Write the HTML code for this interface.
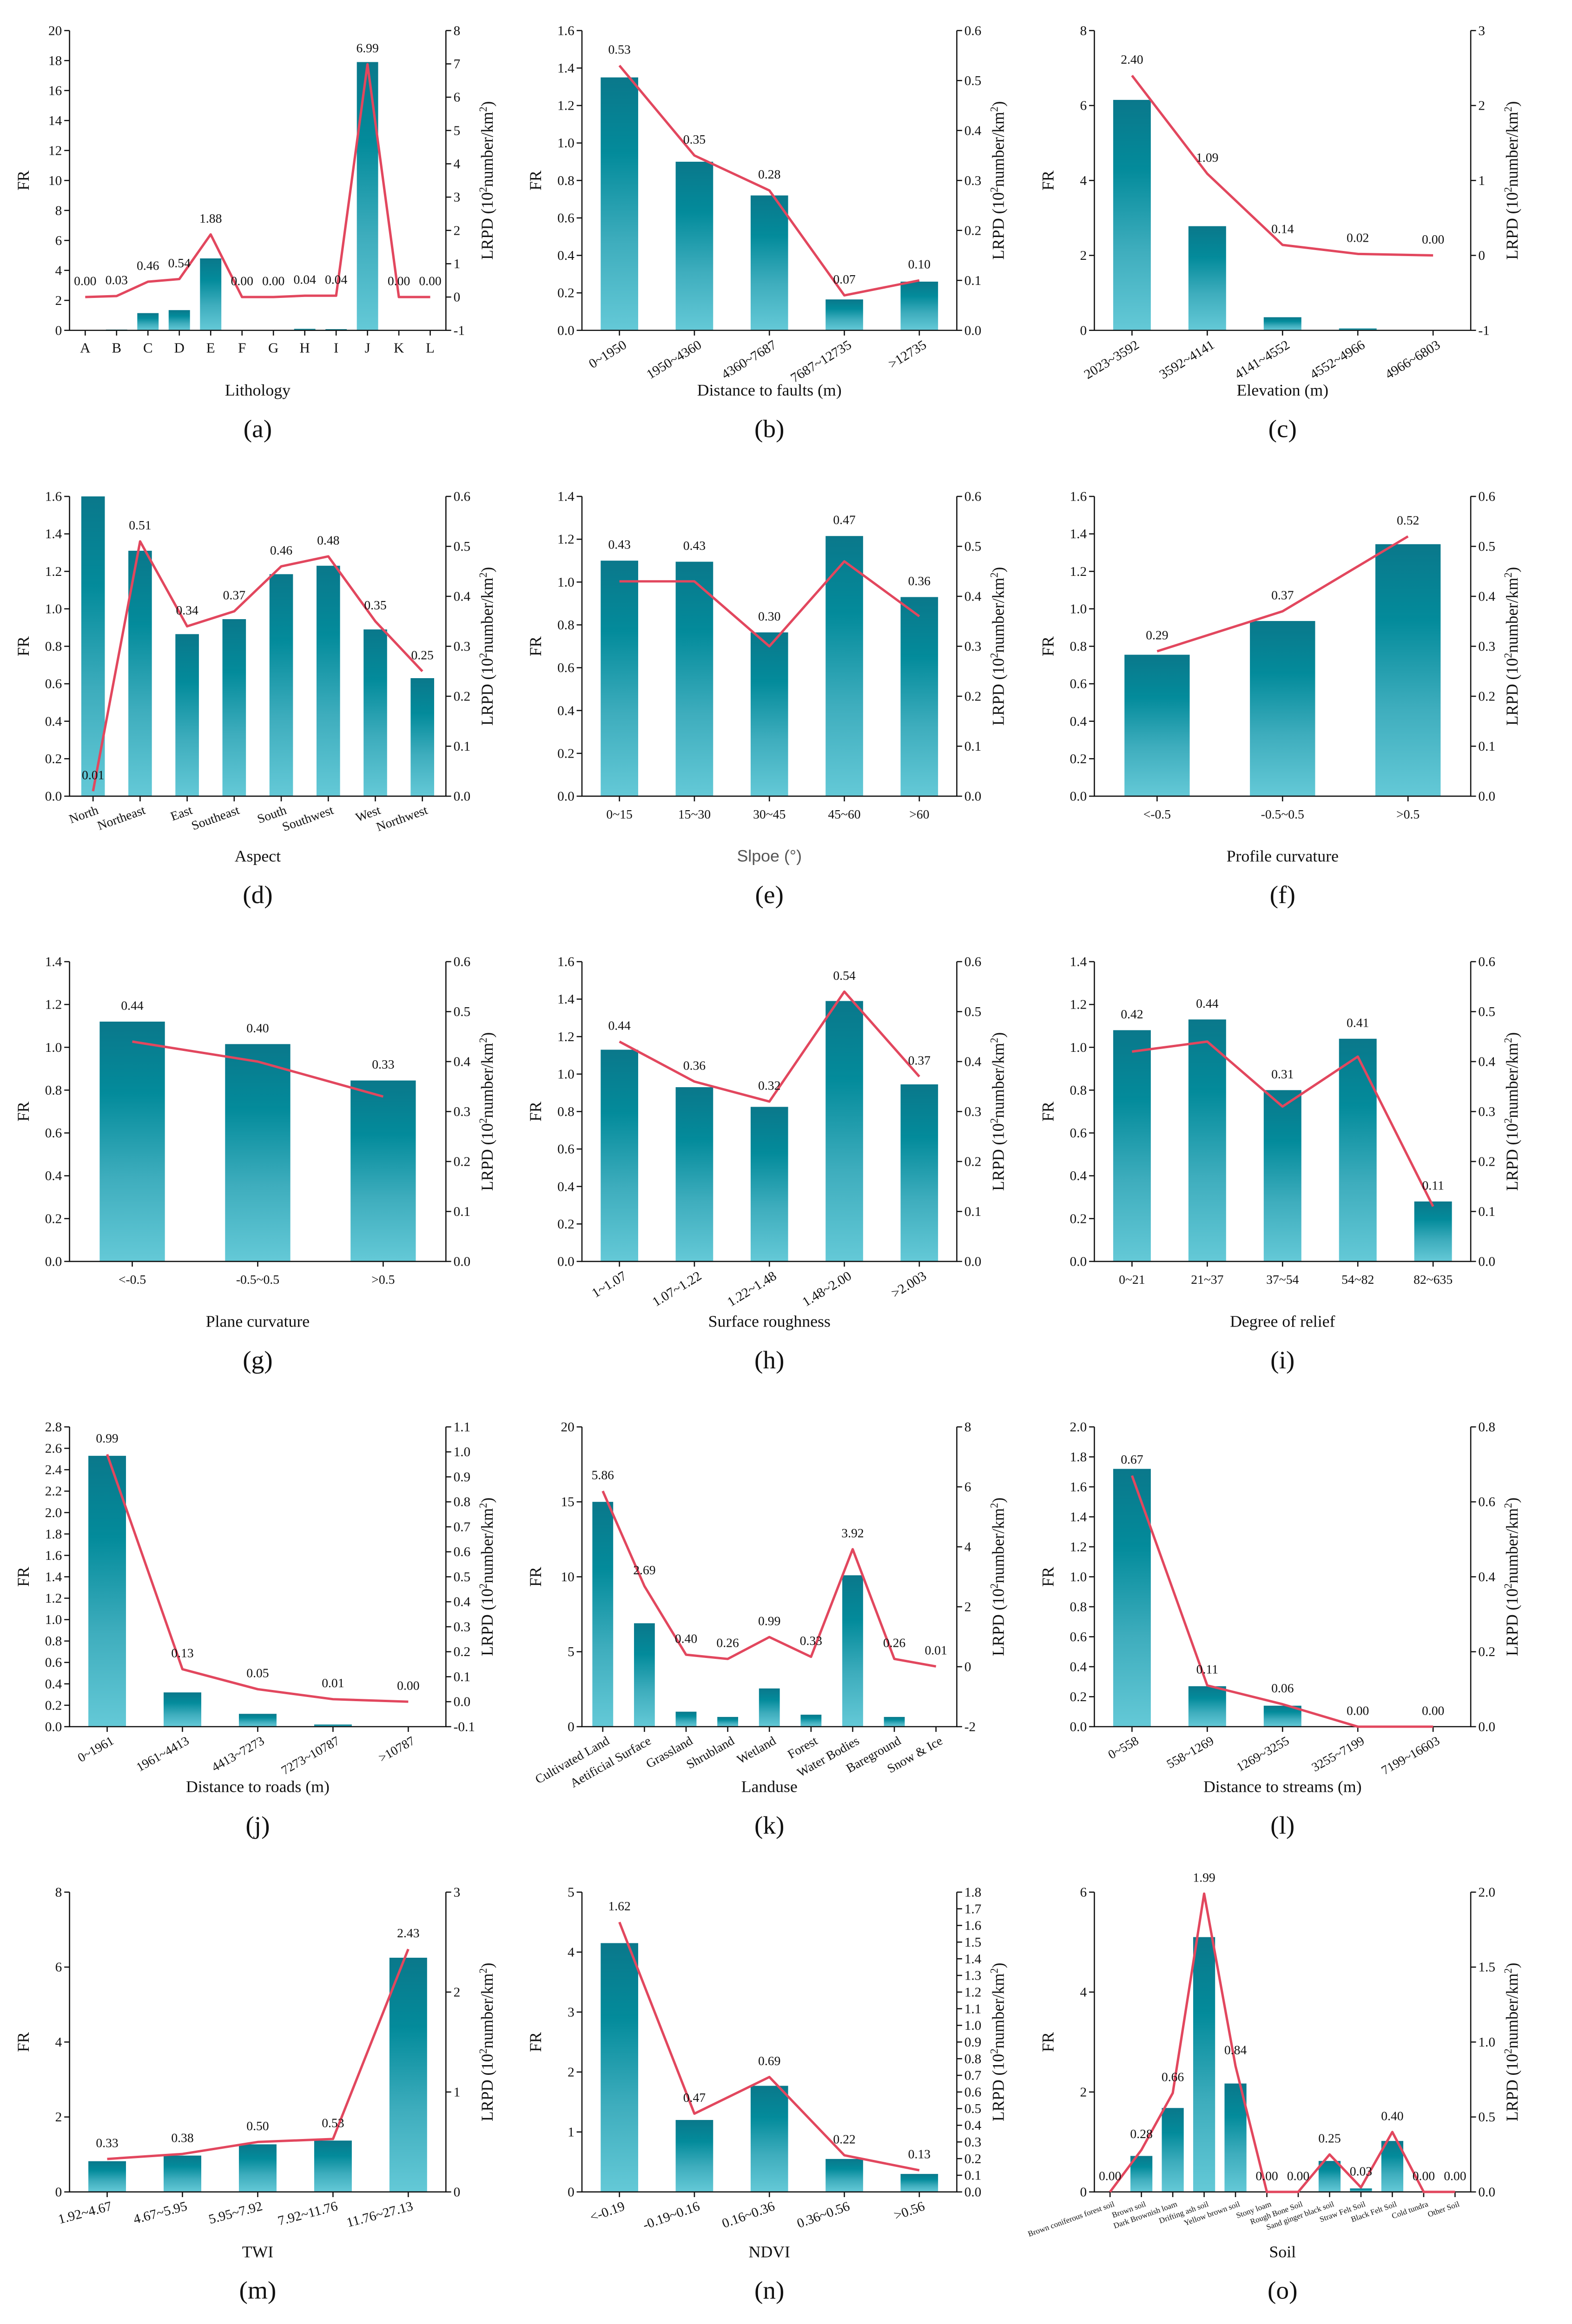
<!DOCTYPE html>
<html><head><meta charset="utf-8"><title>FR and LRPD charts</title>
<style>
html,body{margin:0;padding:0;background:#fff;width:100vw;height:100vh;overflow:hidden;}
svg#fig{display:block;position:absolute;left:0;top:0;width:100vw;height:100vh;}
text{font-family:"Liberation Serif",serif;fill:#111;}
</style></head>
<body>
<svg id="fig" xmlns="http://www.w3.org/2000/svg" viewBox="0 0 1040 1566" preserveAspectRatio="none">
<defs>
<linearGradient id="barGrad" x1="0" y1="0" x2="0" y2="1">
<stop offset="0" stop-color="#0a788b"/>
<stop offset="0.3" stop-color="#038b9b"/>
<stop offset="0.65" stop-color="#3eadbd"/>
<stop offset="1" stop-color="#64c9d7"/>
</linearGradient>
</defs>
<rect x="0" y="0" width="1040" height="1566" fill="#fff"/>
</svg>
<script>
// ---- data ----
const aCats=["A","B","C","D","E","F","G","H","I","J","K","L"];
const aFR=[0,0.05,1.15,1.35,4.8,0,0,0.1,0.08,17.9,0,0];
const aLRPD=[0,0.03,0.46,0.54,1.88,0,0,0.04,0.04,6.99,0,0];
const aLeftTicks=["0","2","4","6","8","10","12","14","16","18","20"];
const aRightTicks=["-1","0","1","2","3","4","5","6","7","8"];
const aLabels=["0.00","0.03","0.46","0.54","1.88","0.00","0.00","0.04","0.04","6.99","0.00","0.00"];

const bCats=["0~1950","1950~4360","4360~7687","7687~12735",">12735"];
const bFR=[1.35,0.9,0.72,0.165,0.26];
const bLRPD=[0.53,0.35,0.28,0.07,0.10];
const bLeftTicks=["0.0","0.2","0.4","0.6","0.8","1.0","1.2","1.4","1.6"];
const bRightTicks=["0.0","0.1","0.2","0.3","0.4","0.5","0.6"];
const bLabels=["0.53","0.35","0.28","0.07","0.10"];

const cCats=["2023~3592","3592~4141","4141~4552","4552~4966","4966~6803"];
const cFR=[6.15,2.78,0.35,0.05,0];
const cLRPD=[2.40,1.09,0.14,0.02,0.00];
const cLeftTicks=["0","2","4","6","8"];
const cRightTicks=["-1","0","1","2","3"];
const cLabels=["2.40","1.09","0.14","0.02","0.00"];

const dCats=["North","Northeast","East","Southeast","South","Southwest","West","Northwest"];
const dFR=[1.6,1.31,0.865,0.945,1.185,1.23,0.89,0.63];
const dLRPD=[0.01,0.51,0.34,0.37,0.46,0.48,0.35,0.25];
const dLeftTicks=["0.0","0.2","0.4","0.6","0.8","1.0","1.2","1.4","1.6"];
const dRightTicks=["0.0","0.1","0.2","0.3","0.4","0.5","0.6"];
const dLabels=["0.01","0.51","0.34","0.37","0.46","0.48","0.35","0.25"];

const eCats=["0~15","15~30","30~45","45~60",">60"];
const eFR=[1.10,1.095,0.765,1.215,0.93];
const eLRPD=[0.43,0.43,0.30,0.47,0.36];
const eLeftTicks=["0.0","0.2","0.4","0.6","0.8","1.0","1.2","1.4"];
const eRightTicks=["0.0","0.1","0.2","0.3","0.4","0.5","0.6"];
const eLabels=["0.43","0.43","0.30","0.47","0.36"];

const fCats=["<-0.5","-0.5~0.5",">0.5"];
const fFR=[0.755,0.935,1.345];
const fLRPD=[0.29,0.37,0.52];
const fLeftTicks=["0.0","0.2","0.4","0.6","0.8","1.0","1.2","1.4","1.6"];
const fRightTicks=["0.0","0.1","0.2","0.3","0.4","0.5","0.6"];
const fLabels=["0.29","0.37","0.52"];

const gCats=["<-0.5","-0.5~0.5",">0.5"];
const gFR=[1.12,1.015,0.845];
const gLRPD=[0.44,0.40,0.33];
const gLeftTicks=["0.0","0.2","0.4","0.6","0.8","1.0","1.2","1.4"];
const gRightTicks=["0.0","0.1","0.2","0.3","0.4","0.5","0.6"];
const gLabels=["0.44","0.40","0.33"];

const hCats=["1~1.07","1.07~1.22","1.22~1.48","1.48~2.00",">2.003"];
const hFR=[1.13,0.93,0.825,1.39,0.945];
const hLRPD=[0.44,0.36,0.32,0.54,0.37];
const hLeftTicks=["0.0","0.2","0.4","0.6","0.8","1.0","1.2","1.4","1.6"];
const hRightTicks=["0.0","0.1","0.2","0.3","0.4","0.5","0.6"];
const hLabels=["0.44","0.36","0.32","0.54","0.37"];

const iCats=["0~21","21~37","37~54","54~82","82~635"];
const iFR=[1.08,1.13,0.80,1.04,0.28];
const iLRPD=[0.42,0.44,0.31,0.41,0.11];
const iLeftTicks=["0.0","0.2","0.4","0.6","0.8","1.0","1.2","1.4"];
const iRightTicks=["0.0","0.1","0.2","0.3","0.4","0.5","0.6"];
const iLabels=["0.42","0.44","0.31","0.41","0.11"];

const jCats=["0~1961","1961~4413","4413~7273","7273~10787",">10787"];
const jFR=[2.53,0.32,0.12,0.02,0];
const jLRPD=[0.99,0.13,0.05,0.01,0.00];
const jLeftTicks=["0.0","0.2","0.4","0.6","0.8","1.0","1.2","1.4","1.6","1.8","2.0","2.2","2.4","2.6","2.8"];
const jRightTicks=["-0.1","0.0","0.1","0.2","0.3","0.4","0.5","0.6","0.7","0.8","0.9","1.0","1.1"];
const jLabels=["0.99","0.13","0.05","0.01","0.00"];

const kCats=["Cultivated Land","Aetificial Surface","Grassland","Shrubland","Wetland","Forest","Water Bodies","Bareground","Snow & Ice"];
const kFR=[15.0,6.9,1.0,0.65,2.55,0.8,10.1,0.65,0];
const kLRPD=[5.86,2.69,0.40,0.26,0.99,0.33,3.92,0.26,0.01];
const kLeftTicks=["0","5","10","15","20"];
const kRightTicks=["-2","0","2","4","6","8"];
const kLabels=["5.86","2.69","0.40","0.26","0.99","0.33","3.92","0.26","0.01"];

const lCats=["0~558","558~1269","1269~3255","3255~7199","7199~16603"];
const lFR=[1.72,0.27,0.14,0,0];
const lLRPD=[0.67,0.11,0.06,0,0];
const lLeftTicks=["0.0","0.2","0.4","0.6","0.8","1.0","1.2","1.4","1.6","1.8","2.0"];
const lRightTicks=["0.0","0.2","0.4","0.6","0.8"];
const lLabels=["0.67","0.11","0.06","0.00","0.00"];

const mCats=["1.92~4.67","4.67~5.95","5.95~7.92","7.92~11.76","11.76~27.13"];
const mFR=[0.82,0.97,1.27,1.37,6.25];
const mLRPD=[0.33,0.38,0.50,0.53,2.43];
const mLeftTicks=["0","2","4","6","8"];
const mRightTicks=["0","1","2","3"];
const mLabels=["0.33","0.38","0.50","0.53","2.43"];

const nCats=["<-0.19","-0.19~0.16","0.16~0.36","0.36~0.56",">0.56"];
const nFR=[4.15,1.2,1.77,0.55,0.3];
const nLRPD=[1.62,0.47,0.69,0.22,0.13];
const nLeftTicks=["0","1","2","3","4","5"];
const nRightTicks=["0.0","0.1","0.2","0.3","0.4","0.5","0.6","0.7","0.8","0.9","1.0","1.1","1.2","1.3","1.4","1.5","1.6","1.7","1.8"];
const nLabels=["1.62","0.47","0.69","0.22","0.13"];

const oCats=["Brown coniferous forest soil","Brown soil","Dark Brownish loam","Drifting ash soil","Yellow brown soil","Stony loam","Rough Bone Soil","Sand ginger black soil","Straw Felt Soil","Black Felt Soil","Cold tundra","Other Soil"];
const oFR=[0,0.72,1.68,5.1,2.17,0,0,0.62,0.07,1.02,0,0];
const oLRPD=[0,0.28,0.66,1.99,0.84,0,0,0.25,0.03,0.40,0,0];
const oLeftTicks=["0","2","4","6"];
const oRightTicks=["0.0","0.5","1.0","1.5","2.0"];
const oLabels=["0.00","0.28","0.66","1.99","0.84","0.00","0.00","0.25","0.03","0.40","0.00","0.00"];

// ---- layout ----
const colL=[46,385,724], colR=[295,633,973];
const rowT=[20.6,334.5,648,961.5,1275], rowH=202;
const NS="http://www.w3.org/2000/svg";
const svg=document.getElementById('fig');
function mk(tag,attrs,parent){const e=document.createElementNS(NS,tag);for(const k in attrs)e.setAttribute(k,attrs[k]);(parent||svg).appendChild(e);return e;}

const panels=[
 {id:"a",r:0,c:0,cats:aCats,fr:aFR,lr:aLRPD,lt:aLeftTicks,rt:aRightTicks,lab:aLabels,title:"Lithology",rot:0,bw:0.68,fs:9.5},
 {id:"b",r:0,c:1,cats:bCats,fr:bFR,lr:bLRPD,lt:bLeftTicks,rt:bRightTicks,lab:bLabels,title:"Distance to faults (m)",rot:-32,bw:0.5,fs:9},
 {id:"c",r:0,c:2,cats:cCats,fr:cFR,lr:cLRPD,lt:cLeftTicks,rt:cRightTicks,lab:cLabels,title:"Elevation (m)",rot:-32,bw:0.5,fs:9},
 {id:"d",r:1,c:0,cats:dCats,fr:dFR,lr:dLRPD,lt:dLeftTicks,rt:dRightTicks,lab:dLabels,title:"Aspect",rot:-20,bw:0.5,fs:8.5},
 {id:"e",r:1,c:1,cats:eCats,fr:eFR,lr:eLRPD,lt:eLeftTicks,rt:eRightTicks,lab:eLabels,title:"Slpoe (°)",rot:0,bw:0.5,fs:8.5,sans:true,above:true},
 {id:"f",r:1,c:2,cats:fCats,fr:fFR,lr:fLRPD,lt:fLeftTicks,rt:fRightTicks,lab:fLabels,title:"Profile curvature",rot:0,bw:0.52,fs:8.5},
 {id:"g",r:2,c:0,cats:gCats,fr:gFR,lr:gLRPD,lt:gLeftTicks,rt:gRightTicks,lab:gLabels,title:"Plane curvature",rot:0,bw:0.52,fs:8.5,above:true},
 {id:"h",r:2,c:1,cats:hCats,fr:hFR,lr:hLRPD,lt:hLeftTicks,rt:hRightTicks,lab:hLabels,title:"Surface roughness",rot:-32,bw:0.5,fs:9},
 {id:"i",r:2,c:2,cats:iCats,fr:iFR,lr:iLRPD,lt:iLeftTicks,rt:iRightTicks,lab:iLabels,title:"Degree of relief",rot:0,bw:0.5,fs:8.5,above:true},
 {id:"j",r:3,c:0,cats:jCats,fr:jFR,lr:jLRPD,lt:jLeftTicks,rt:jRightTicks,lab:jLabels,title:"Distance to roads (m)",rot:-30,bw:0.5,fs:8.5},
 {id:"k",r:3,c:1,cats:kCats,fr:kFR,lr:kLRPD,lt:kLeftTicks,rt:kRightTicks,lab:kLabels,title:"Landuse",rot:-30,bw:0.5,fs:8.5},
 {id:"l",r:3,c:2,cats:lCats,fr:lFR,lr:lLRPD,lt:lLeftTicks,rt:lRightTicks,lab:lLabels,title:"Distance to streams (m)",rot:-30,bw:0.5,fs:8.5},
 {id:"m",r:4,c:0,cats:mCats,fr:mFR,lr:mLRPD,lt:mLeftTicks,rt:mRightTicks,lab:mLabels,title:"TWI",rot:-15,bw:0.5,fs:9},
 {id:"n",r:4,c:1,cats:nCats,fr:nFR,lr:nLRPD,lt:nLeftTicks,rt:nRightTicks,lab:nLabels,title:"NDVI",rot:-20,bw:0.5,fs:9},
 {id:"o",r:4,c:2,cats:oCats,fr:oFR,lr:oLRPD,lt:oLeftTicks,rt:oRightTicks,lab:oLabels,title:"Soil",rot:-20,bw:0.7,fs:5.3}
];

panels.forEach(p=>{
 const L=colL[p.c], R=colR[p.c], T=rowT[p.r], B=T+rowH;
 const n=p.cats.length, band=(R-L)/n;
 const cx=i=>L+band*(i+0.5);
 const lmin=parseFloat(p.lt[0]), lmax=parseFloat(p.lt[p.lt.length-1]);
 const rmin=parseFloat(p.rt[0]), rmax=parseFloat(p.rt[p.rt.length-1]);
 const yL=v=>B-(v-lmin)/(lmax-lmin)*(B-T);
 const yR=v=>B-(v-rmin)/(rmax-rmin)*(B-T);
 const g=mk('g',{});
 
 
 p.fr.forEach((v,i)=>{
  const w=band*p.bw, y=yL(v);
  const b=mk('rect',{x:cx(i)-w/2,y:y,width:w,height:Math.max(0,B-y),fill:'url(#barGrad)'},g);
  
  
 });
 const ax=mk('path',{d:`M${L},${T}V${B}H${R}V${T}`,fill:'none',stroke:'#111','stroke-width':0.8},g);
 
 
 p.lt.forEach(s=>{const y=yL(parseFloat(s));
  mk('line',{x1:L-3.5,x2:L,y1:y,y2:y,stroke:'#111','stroke-width':0.8},g);
  const t=mk('text',{x:L-5,y:y+3,'text-anchor':'end','font-size':9},g);t.textContent=s;
  
  
 });
 p.rt.forEach(s=>{const y=yR(parseFloat(s));
  mk('line',{x1:R,x2:R+3.5,y1:y,y2:y,stroke:'#111','stroke-width':0.8},g);
  const t=mk('text',{x:R+5,y:y+3,'text-anchor':'start','font-size':9},g);t.textContent=s;
  
  
 });
 p.cats.forEach((s,i)=>{const x=cx(i);
  mk('line',{x1:x,x2:x,y1:B,y2:B+3.5,stroke:'#111','stroke-width':0.8},g);
  let t;
  if(p.rot===0){t=mk('text',{x:x,y:B+15,'text-anchor':'middle','font-size':p.fs},g);}
  else{t=mk('text',{x:x+2,y:B+6,'text-anchor':'end','font-size':p.fs,dy:'0.7em',transform:`rotate(${p.rot},${x+2},${B+6})`},g);}
  t.textContent=s;
  
  
 });
 const pts=p.lr.map((v,i)=>cx(i)+','+yR(v)).join(' ');
 const pl=mk('polyline',{points:pts,fill:'none',stroke:'#e2475e','stroke-width':1.6,'stroke-linejoin':'round'},g);
 
 
 p.lr.forEach((v,i)=>{
  const y=(p.above?Math.min(yR(v),yL(p.fr[i])):yR(v))-8;
  const t=mk('text',{x:cx(i),y:y,'text-anchor':'middle','font-size':8.5},g);t.textContent=p.lab[i];
  
  
 });
 const yt=mk('text',{x:L-27,y:(T+B)/2,'text-anchor':'middle','font-size':11,transform:`rotate(-90,${L-27},${(T+B)/2})`},g);
 yt.textContent='FR';
 
 
 const rx=R+31, ry=(T+B)/2;
 const rt=mk('text',{x:rx,y:ry,'text-anchor':'middle','font-size':11,transform:`rotate(-90,${rx},${ry})`},g);
 rt.innerHTML='LRPD (10<tspan font-size="7" dy="-4">2</tspan><tspan dy="4">number/km</tspan><tspan font-size="7" dy="-4">2</tspan><tspan dy="4">)</tspan>';
 
 
 const xt=mk('text',{x:(L+R)/2,y:B+44,'text-anchor':'middle','font-size':11},g);
 if(p.sans){xt.setAttribute('style','font-family:"Liberation Sans",sans-serif;fill:#555');}
 xt.textContent=p.title;
 
 
 const pt=mk('text',{x:(L+R)/2,y:B+72,'text-anchor':'middle','font-size':17},g);
 pt.textContent='('+p.id+')';
 
 
});
</script>
</body></html>
